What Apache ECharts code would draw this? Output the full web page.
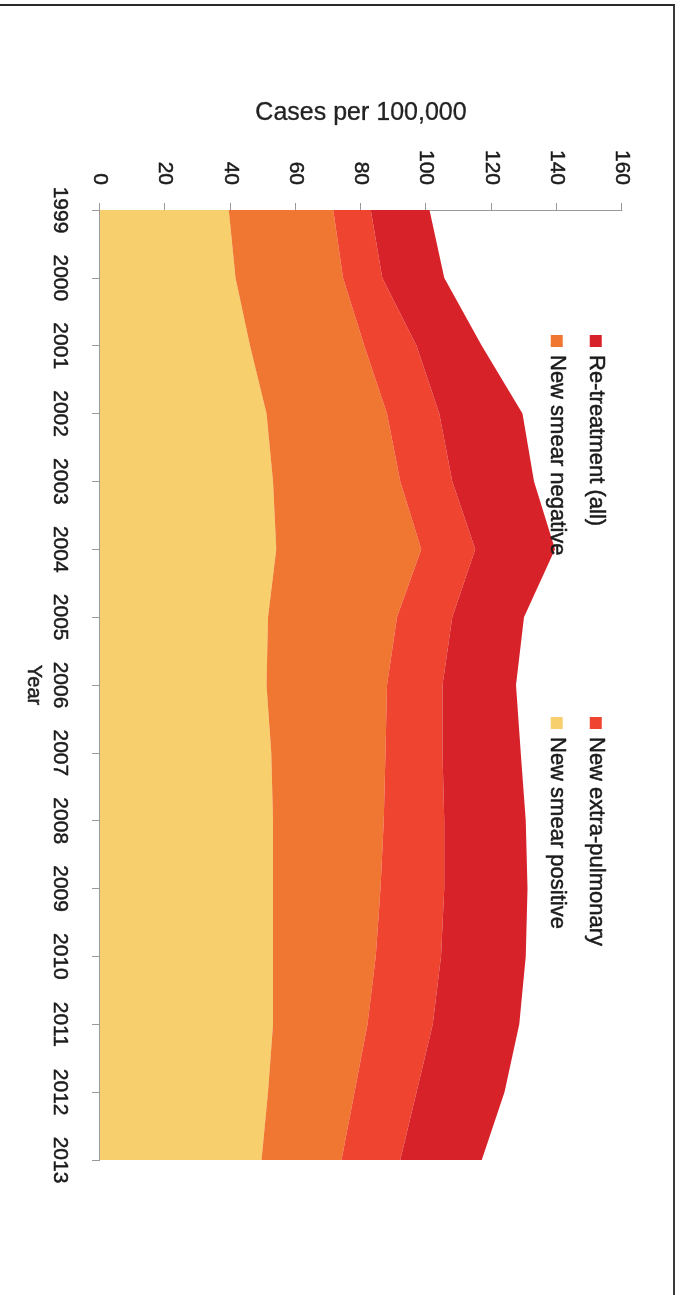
<!DOCTYPE html>
<html>
<head>
<meta charset="utf-8">
<script src="https://cdn.jsdelivr.net/npm/echarts@6/dist/echarts.min.js"></script>
<style>
  html, body { margin: 0; padding: 0; background: #fff; }
  #page { position: relative; width: 684px; height: 1295px; overflow: hidden; background: #fff; }
  /* chart is drawn landscape, then turned a quarter clockwise */
  #chart { position: absolute; left: 684px; top: 0; width: 1295px; height: 684px;
           transform-origin: 0 0; transform: rotate(90deg); }
  #frame { position: absolute; left: -4px; top: 4px; width: 677px; height: 1300px;
           border-top: 2px solid #2a2a2a; border-right: 2px solid #3a3a3a; }
</style>
</head>
<body>
<div id="page">
  <div id="chart"></div>
  <div id="frame"></div>
</div>
<script>
// data (cases per 100,000)
var years = ['1999', '2000', '2001', '2002', '2003', '2004', '2005', '2006',
             '2007', '2008', '2009', '2010', '2011', '2012', '2013'];
var smearPositive  = [39.5, 41.5, 46, 51, 53, 54, 51.5, 51, 52.5, 53, 53, 53, 53, 51.5, 49.5];
var smearNegative  = [32, 33, 35, 37, 39, 44.5, 39.5, 37, 35, 34, 33, 31.5, 29, 26.5, 24.5];
var extraPulmonary = [11.5, 12, 16, 16, 16, 16.5, 17, 17, 17.5, 18.5, 19.5, 20, 20, 19, 18];
var retreatment    = [18, 19, 20, 25.5, 25, 24.5, 22, 22.5, 24, 25, 25.5, 26, 26.5, 27, 25];
var valueTicks = [0, 20, 40, 60, 80, 100, 120, 140, 160];

var FONT = '"Liberation Sans", Arial, sans-serif';
// a thin outline of the same colour makes the text a little heavier, like the scan
var heavy = { textBorderColor: '#1a1a1a', textBorderWidth: 0.5 };

function areaSeries(name, data, color) {
  return {
    name: name,
    type: 'line',
    stack: 'total',
    data: data,
    showSymbol: false,
    lineStyle: { width: 0 },
    itemStyle: { color: color },
    areaStyle: { color: color, opacity: 1 }
  };
}

function legendAt(name, left, top) {
  return {
    data: [name],
    left: left, top: top,
    padding: 0,
    icon: 'rect',
    itemWidth: 12, itemHeight: 12,
    textStyle: Object.assign({ fontFamily: FONT, fontSize: 22, color: '#1a1a1a', lineHeight: 22,
                               padding: [0, 0, 0, 3] }, heavy)
  };
}

var chart = echarts.init(document.getElementById('chart'), null, { renderer: 'canvas' });

chart.setOption({
  animation: false,
  backgroundColor: '#fff',
  grid: { left: 210, right: 135, top: 62, bottom: 100 },
  legend: [
    legendAt('Re-treatment (all)', 335, 77),
    legendAt('New smear negative', 335, 116),
    legendAt('New extra-pulmonary', 717, 77),
    legendAt('New smear positive', 717, 116)
  ],
  xAxis: {
    type: 'category',
    data: years,
    boundaryGap: false,
    name: 'Year',
    nameLocation: 'middle',
    nameGap: 55,
    nameTextStyle: Object.assign({ fontFamily: FONT, fontSize: 20, color: '#222' }, heavy),
    axisLine: { lineStyle: { color: '#9a9a9a', width: 1 } },
    axisTick: { show: true, length: 8, lineStyle: { color: '#9a9a9a' } },
    axisLabel: Object.assign({ interval: 0, margin: 30, fontFamily: FONT, fontSize: 21, color: '#1a1a1a' }, heavy)
  },
  yAxis: {
    type: 'value',
    min: valueTicks[0],
    max: valueTicks[valueTicks.length - 1],
    interval: 20,
    name: 'Cases per 100,000',
    nameLocation: 'middle',
    nameGap: 84,
    nameTextStyle: { fontFamily: FONT, fontSize: 25, color: '#222', textBorderColor: '#222', textBorderWidth: 0.3 },
    axisLine: { show: true, lineStyle: { color: '#9a9a9a', width: 1 } },
    axisTick: { show: true, length: 7, lineStyle: { color: '#9a9a9a' } },
    splitLine: { show: false },
    axisLabel: Object.assign({ margin: 25, fontFamily: FONT, fontSize: 21, color: '#1a1a1a' }, heavy)
  },
  series: [
    areaSeries('New smear positive', smearPositive, '#F7CF6C'),
    areaSeries('New smear negative', smearNegative, '#F07731'),
    areaSeries('New extra-pulmonary', extraPulmonary, '#EE4430'),
    areaSeries('Re-treatment (all)', retreatment, '#D8222A')
  ]
});
</script>
</body>
</html>
